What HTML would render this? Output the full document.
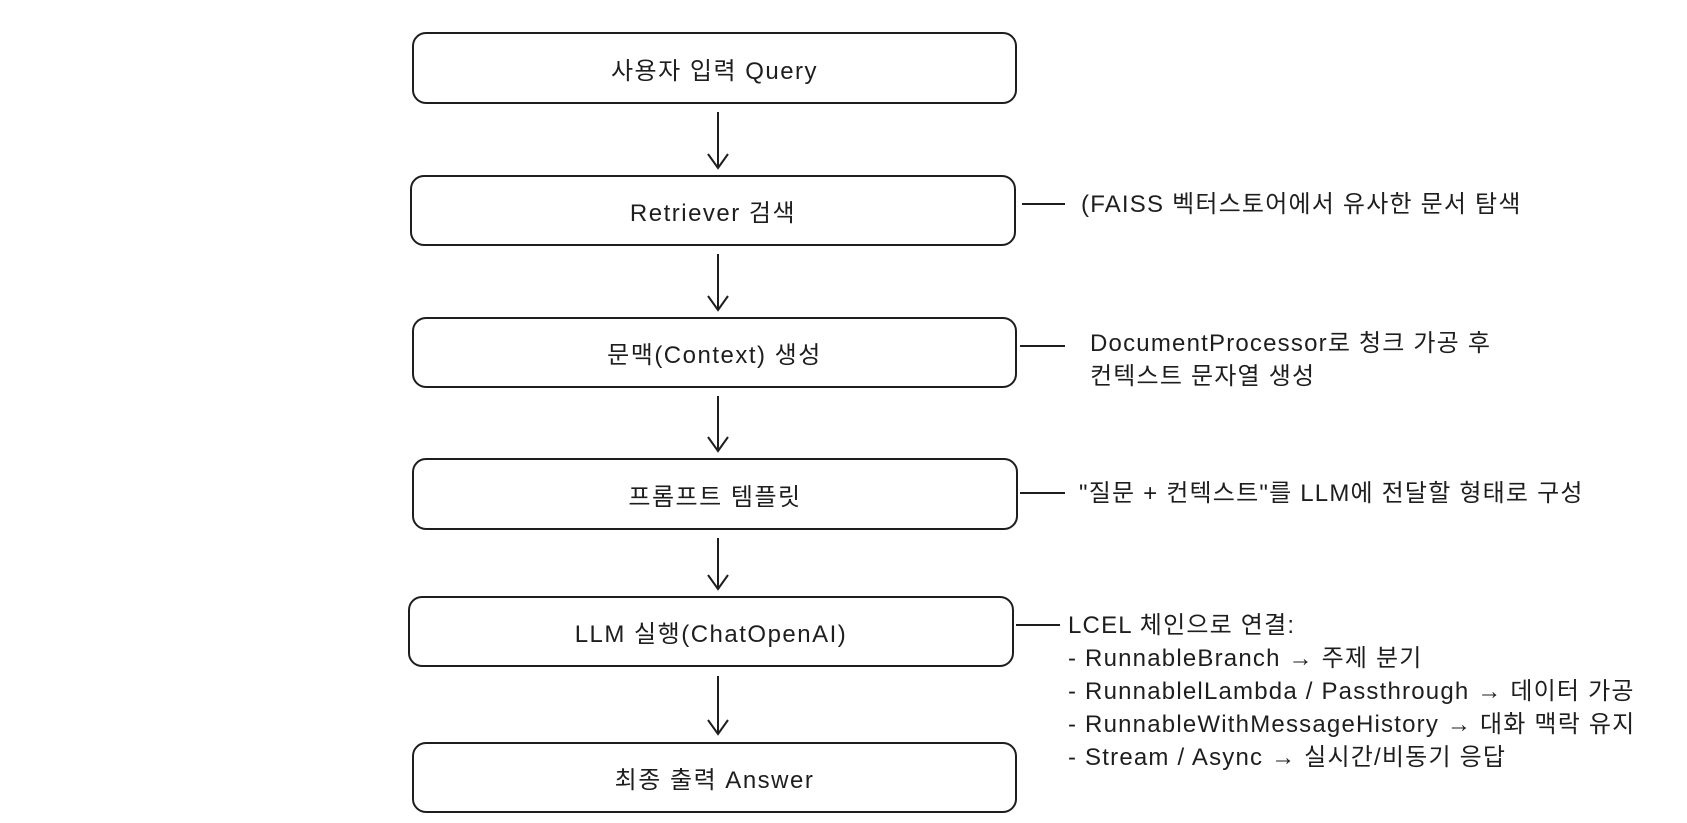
<!DOCTYPE html>
<html><head><meta charset="utf-8"><style>
body{margin:0;width:1687px;height:823px;background:#fff;position:relative;overflow:hidden;font-family:"Liberation Sans","Noto Sans CJK KR",sans-serif;color:#1e1e1e}
.b{position:absolute;border:2px solid #1e1e1e;border-radius:14px;display:flex;align-items:center;justify-content:center;font-size:24px;letter-spacing:1.5px;box-sizing:border-box}
.t{position:absolute;font-size:24px;letter-spacing:1.2px;white-space:nowrap;line-height:33px}
svg{position:absolute;left:0;top:0}
</style></head><body>
<div class="b" style="left:412px;top:32px;width:605px;height:72px">사용자 입력 Query</div>
<div class="b" style="left:410px;top:175px;width:606px;height:71px">Retriever 검색</div>
<div class="b" style="left:412px;top:317px;width:605px;height:71px">문맥(Context) 생성</div>
<div class="b" style="left:412px;top:458px;width:606px;height:72px">프롬프트 템플릿</div>
<div class="b" style="left:408px;top:596px;width:606px;height:71px">LLM 실행(ChatOpenAI)</div>
<div class="b" style="left:412px;top:742px;width:605px;height:71px">최종 출력 Answer</div>
<svg width="1687" height="823" fill="none" stroke="#1e1e1e" stroke-width="2">
<path d="M718 112V168M708 154L718 168L728 154"/>
<path d="M718 254V310M708 296L718 310L728 296"/>
<path d="M718 396V451M708 437L718 451L728 437"/>
<path d="M718 538V589M708 575L718 589L728 575"/>
<path d="M718 676V734M708 720L718 734L728 720"/>
<path d="M1022 204H1065M1020 346H1065M1020 493H1065M1016 625H1060"/>
</svg>
<div class="t" style="left:1081px;top:188px">(FAISS 벡터스토어에서 유사한 문서 탐색</div>
<div class="t" style="left:1090px;top:327px">DocumentProcessor로 청크 가공 후<br>컨텍스트 문자열 생성</div>
<div class="t" style="left:1079px;top:477px">"질문 + 컨텍스트"를 LLM에 전달할 형태로 구성</div>
<div class="t" style="left:1068px;top:609px">LCEL 체인으로 연결:<br>- RunnableBranch → 주제 분기<br>- RunnablelLambda / Passthrough → 데이터 가공<br>- RunnableWithMessageHistory → 대화 맥락 유지<br>- Stream / Async → 실시간/비동기 응답</div>
</body></html>
